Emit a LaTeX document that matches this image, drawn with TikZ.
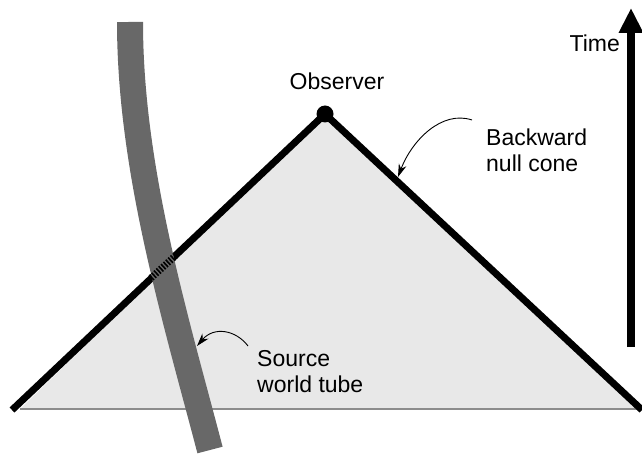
\documentclass[tikz,border=0pt]{standalone}
\usepackage{fontspec}
\setmainfont{Liberation Sans}
\usetikzlibrary{arrows.meta}
\definecolor{tubegray}{HTML}{686868}
\definecolor{conefill}{HTML}{E8E8E8}
\definecolor{basegray}{HTML}{8C8C8C}
\tikzset{
  coneedge/.style={line width=7pt, line cap=butt},
  tubestyle/.style={line width=26pt, tubegray, line cap=butt},
  label/.style={font=\fontsize{23}{26}\selectfont, inner sep=0pt, align=left},
  pointer/.style={line width=0.9pt, -{Stealth[length=13pt,width=8pt]}},
}
\begin{document}
\begin{tikzpicture}[x=1pt,y=-1pt]
\useasboundingbox (0,0) rectangle (642,454);
% cone geometry
\coordinate (apex) at (325,114);
\coordinate (lend) at (12,410);
\coordinate (rend) at (642,410);
\coordinate (bl) at (20,409);
\coordinate (br) at (642,409);
\fill[conefill] (apex) -- (bl) -- (br) -- cycle;
\draw[basegray, line width=1.5pt] (bl) -- (br);
\draw[coneedge] (lend) -- (apex) -- (rend);
% source world tube
\coordinate (ttop) at (130,22);
\coordinate (tbot) at (210,450);
\draw[tubestyle] (ttop) .. controls (130,170) and (176,320) .. (tbot);
% dashed part of the cone edge over the tube
\coordinate (d1) at (151,278);
\coordinate (d2) at (175,256);
\draw[line width=7pt, dash pattern=on 1.6pt off 1.6pt] (d1) -- (d2);
% observer
\node[circle, fill=black, minimum size=17pt, inner sep=0pt] (obs) at (apex) {};
\node[label] (obslabel) at (337,81) {Observer};
% backward null cone label
\node[label, anchor=west] (bnc) at (486,150) {Backward\\null cone};
\coordinate (bnctip) at (398,177);
\draw[pointer] (472,120) .. controls (442,110) and (412,140) .. (bnctip);
% source label
\node[label, anchor=west] (src) at (257,372) {Source\\world tube};
\coordinate (srctip) at (197,346);
\draw[pointer] (248,346) .. controls (236,330) and (214,326) .. (srctip);
% time arrow
\coordinate (timebot) at (631,347);
\coordinate (timetop) at (631,8);
\draw[line width=8pt, -{Triangle[length=25pt,width=23pt]}] (timebot) -- (timetop);
\node[label, anchor=east] (time) at (620,43) {Time};
\end{tikzpicture}
\end{document}
